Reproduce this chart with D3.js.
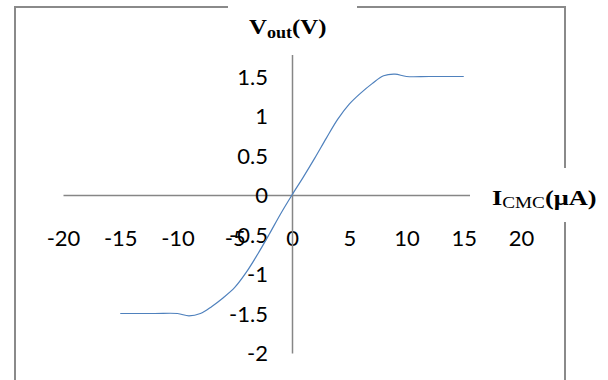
<!DOCTYPE html>
<html><head><meta charset="utf-8">
<script src="https://cdn.jsdelivr.net/npm/d3@7"></script>
<style>body{margin:0;background:#fff} svg{display:block}</style>
</head><body><svg width="608" height="380"></svg>
<script>
const xValues = [-15,-12,-10,-9,-8,-7,-6,-5,-4,-3,-2,-1,0,1,2,3,4,5,6,7,8,9,10,12,15];
const yValues = [-1.5,-1.5,-1.5,-1.53,-1.5,-1.41,-1.3,-1.17,-0.98,-0.75,-0.5,-0.24,0,0.23,0.47,0.72,0.96,1.15,1.29,1.41,1.51,1.53,1.5,1.5,1.5];
const xTicks = [-20,-15,-10,-5,0,5,10,15,20];
const yTicks = [-2,-1.5,-1,-0.5,0,0.5,1,1.5,2];
const yTitle = "V", yTitleSub = "out", yTitleRest = "(V)";
const xTitle = "I", xTitleSub = "CMC", xTitleRest = "(μA)";

const svg = d3.select("svg");
const x = d3.scaleLinear().domain([-20,20]).range([63,521]);
const y = d3.scaleLinear().domain([-2,2]).range([353,37]);
const axisColor = "#868686";
const tickFont = "Lato, 'Open Sans', sans-serif";
const fmt = d => String(d);

// chart border
svg.append("path").attr("d","M15,381V7H565V381")
  .attr("fill","none").attr("stroke","#8a8a8a").attr("stroke-width",2);

// x axis
const gx = svg.append("g").attr("transform",`translate(0,${y(0)})`)
  .call(d3.axisBottom(x).tickValues(xTicks).tickSize(0).tickSizeOuter(0).tickFormat(fmt));
gx.select(".domain").attr("stroke",axisColor).attr("stroke-width",1.5);
gx.selectAll("text").attr("y",43).attr("dy","0.35em")
  .attr("font-family",tickFont).attr("font-size",22).attr("fill","#000");

// y axis
const gy = svg.append("g").attr("transform",`translate(${x(0)},0)`)
  .call(d3.axisLeft(y).tickValues(yTicks).tickSize(0).tickSizeOuter(0).tickPadding(24).tickFormat(fmt));
gy.select(".domain").attr("stroke",axisColor).attr("stroke-width",1.5);
gy.selectAll("text").attr("dy","0.36em")
  .attr("font-family",tickFont).attr("font-size",22).attr("fill","#000");

// series line
const pts = xValues.map((v,i)=>[v,yValues[i]]);
svg.append("path").datum(pts)
  .attr("fill","none").attr("stroke","#4f81bd").attr("stroke-width",1.2)
  .attr("d", d3.line().x(d=>x(d[0])).y(d=>y(d[1])).curve(d3.curveCatmullRom.alpha(0.5)));

// y title with white background box
svg.append("rect").attr("x",228).attr("y",0).attr("width",129).attr("height",55).attr("fill","#fff");
const ty = svg.append("text").attr("transform","translate(249,34) scale(1.13,1)")
  .attr("font-family","'Liberation Serif','Times New Roman',serif").attr("font-weight","bold")
  .attr("font-size",22).attr("fill","#000");
ty.append("tspan").text(yTitle);
ty.append("tspan").attr("font-size",16).attr("dy",4).text(yTitleSub);
ty.append("tspan").attr("dy",-4).text(yTitleRest);

// x title with white background box
svg.append("rect").attr("x",470).attr("y",168).attr("width",138).attr("height",54).attr("fill","#fff");
const tx = svg.append("text").attr("transform","translate(492,205) scale(1.2,1)")
  .attr("font-family","'Liberation Serif','Times New Roman',serif").attr("font-weight","bold")
  .attr("font-size",22).attr("fill","#000");
tx.append("tspan").text(xTitle);
tx.append("tspan").attr("font-size",16).attr("dy",3).attr("font-weight","normal").text(xTitleSub);
tx.append("tspan").attr("dy",-3).text(xTitleRest);
</script>
</body></html>
